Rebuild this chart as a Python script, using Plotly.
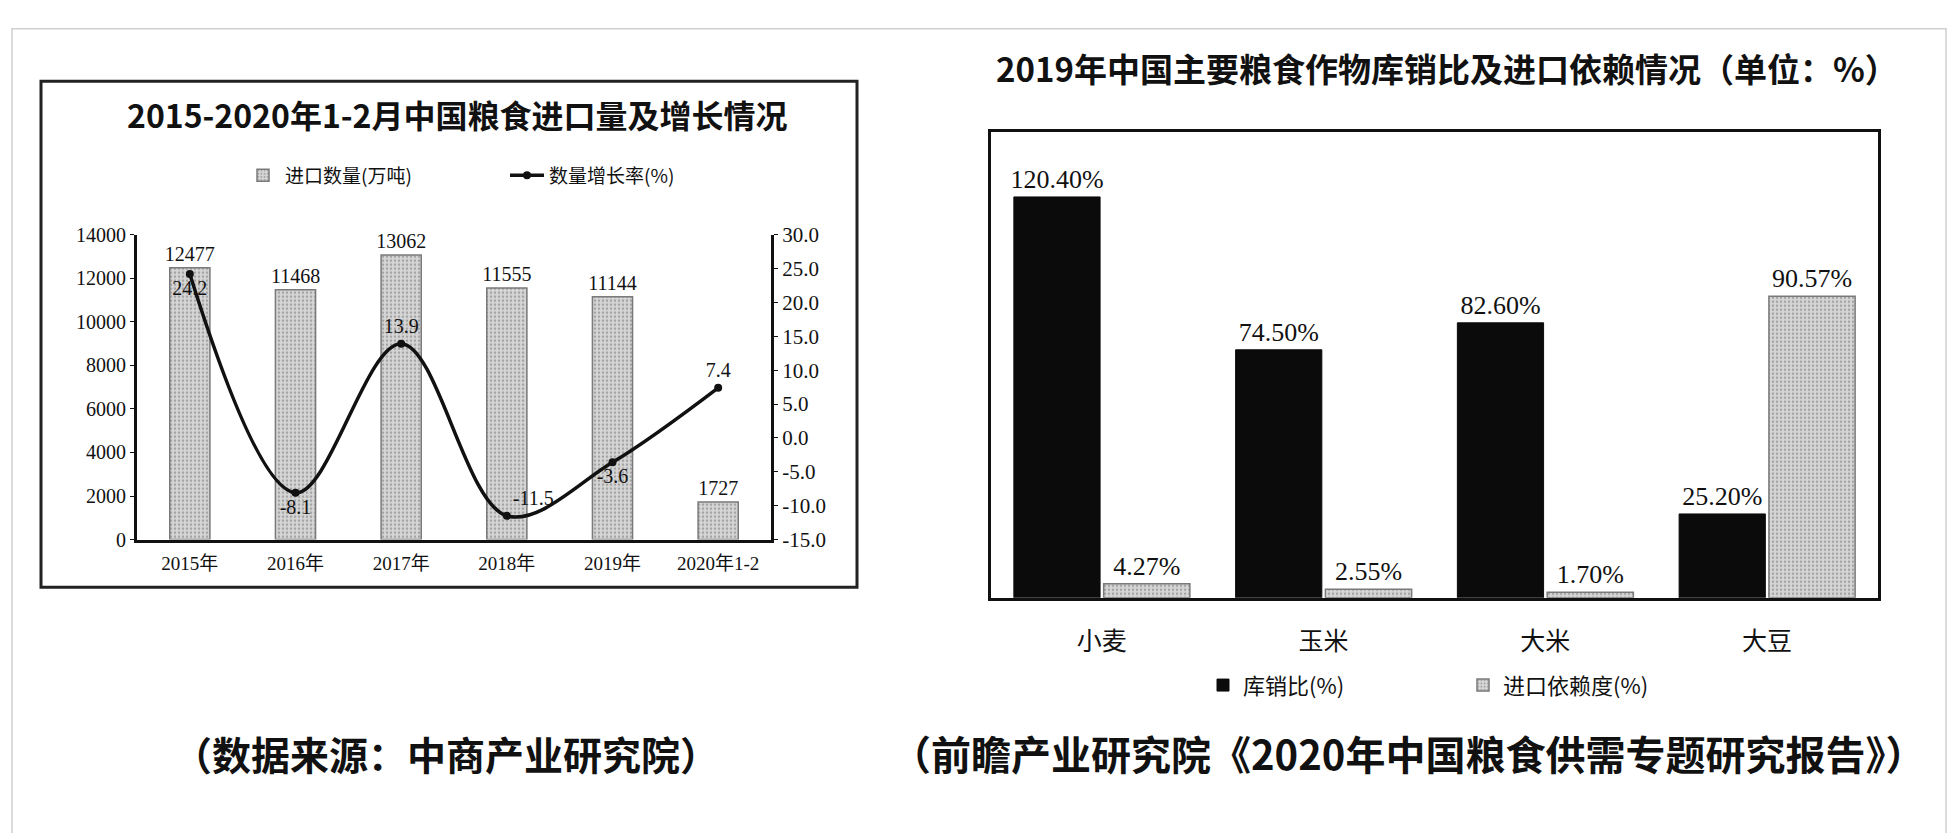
import plotly.graph_objects as go

W, H = 1959, 833
OFF = 8  # default body margin of the html page


def px(x):
    return (x - OFF) / W


def py(y):
    return 1 - (y - OFF) / H


# ---------------- data ----------------
years = ["2015年", "2016年", "2017年", "2018年", "2019年", "2020年1-2"]
import_volume = [12477, 11468, 13062, 11555, 11144, 1727]
growth_rate = [24.2, -8.1, 13.9, -11.5, -3.6, 7.4]
growth_label_pos = ["bottom center", "bottom center", "top center",
                    "top right", "bottom center", "top center"]

left_ticks = [0, 2000, 4000, 6000, 8000, 10000, 12000, 14000]
right_ticks = [-15, -10, -5, 0, 5, 10, 15, 20, 25, 30]

crops = ["小麦", "玉米", "大米", "大豆"]
stock_to_use = [120.40, 74.50, 82.60, 25.20]
import_dependence = [4.27, 2.55, 1.70, 90.57]

SERIF = "Liberation Serif, Noto Sans CJK SC"
CJK = "Noto Sans CJK SC, Liberation Serif"

dot_pattern = dict(shape=".", fgcolor="#6f6f6f", bgcolor="#d6d6d6",
                   size=4, solidity=0.3)

fig = go.Figure()

# ---------------- left chart ----------------
fig.add_trace(go.Bar(
    x=years, y=import_volume, name="进口数量(万吨)",
    xaxis="x", yaxis="y", width=0.38,
    marker=dict(color="#cfcfcf",
                line=dict(color="#7a7a7a", width=1.5),
                pattern=dot_pattern),
    text=[str(v) for v in import_volume], textposition="outside",
    constraintext="none",
    textfont=dict(family=SERIF, size=20, color="#111"),
    cliponaxis=False, legend="legend",
))

fig.add_trace(go.Scatter(
    x=years, y=growth_rate, name="数量增长率(%)",
    xaxis="x", yaxis="y2", mode="lines+markers+text",
    line=dict(color="#111", width=3.5, shape="spline", smoothing=1.0),
    marker=dict(color="#111", size=8),
    text=[f"{v:.1f}" for v in growth_rate], textposition=growth_label_pos,
    textfont=dict(family=SERIF, size=20, color="#111"),
    cliponaxis=False, legend="legend",
))

# ---------------- right chart ----------------
fig.add_trace(go.Bar(
    x=crops, y=stock_to_use, name="库销比(%)",
    xaxis="x3", yaxis="y3",
    marker=dict(color="#0b0b0b", line=dict(color="#0b0b0b", width=1)),
    texttemplate="%{y:.2f}%", textposition="outside", constraintext="none",
    textfont=dict(family=SERIF, size=26, color="#111"),
    cliponaxis=False, legend="legend2",
))
fig.add_trace(go.Bar(
    x=crops, y=import_dependence, name="进口依赖度(%)",
    xaxis="x3", yaxis="y3",
    marker=dict(color="#d0d0d0",
                line=dict(color="#7a7a7a", width=1.5),
                pattern=dot_pattern),
    texttemplate="%{y:.2f}%", textposition="outside", constraintext="none",
    textfont=dict(family=SERIF, size=26, color="#111"),
    cliponaxis=False, legend="legend2",
))

fig.update_layout(
    width=W, height=H,
    margin=dict(l=0, r=0, t=0, b=0),
    paper_bgcolor="white", plot_bgcolor="white",
    barmode="group", bargap=0.19, bargroupgap=0.04,
    font=dict(family=SERIF, color="#111"),
    xaxis=dict(domain=[px(137), px(771)], anchor="y",
               showline=True, linecolor="#111", linewidth=3,
               ticks="", showgrid=False, zeroline=False,
               tickfont=dict(family=SERIF, size=19, color="#111"),
               ticklabelstandoff=5),
    yaxis=dict(domain=[py(543), py(229)], anchor="x", range=[0, 14000],
               tickvals=left_ticks, ticktext=[str(v) for v in left_ticks],
               showline=True, linecolor="#111", linewidth=3,
               ticks="outside", ticklen=4, tickcolor="#111",
               showgrid=False, zeroline=False,
               tickfont=dict(family=SERIF, size=20, color="#111")),
    yaxis2=dict(overlaying="y", anchor="x", side="right", range=[-15, 30],
                tickvals=right_ticks, ticktext=[f"{v:.1f}" for v in right_ticks],
                showline=True, linecolor="#111", linewidth=3,
                ticks="outside", ticklen=4, tickcolor="#111",
                showgrid=False, zeroline=False,
                tickfont=dict(family=SERIF, size=21, color="#111")),
    xaxis3=dict(domain=[px(991), px(1878)], anchor="y3",
                showline=True, mirror=True, linecolor="#111", linewidth=3,
                ticks="", showgrid=False, zeroline=False,
                tickfont=dict(family=CJK, size=25, color="#111"),
                ticklabelstandoff=19),
    yaxis3=dict(domain=[py(603), py(123)], anchor="x3", range=[0, 140],
                showline=True, mirror=True, linecolor="#111", linewidth=3,
                showticklabels=False, ticks="", showgrid=False, zeroline=False),
    legend=dict(orientation="h", x=px(505), y=py(168), xanchor="center",
                yanchor="middle", font=dict(family=CJK, size=19, color="#111"),
                bgcolor="rgba(0,0,0,0)", itemwidth=34, entrywidth=215,
                traceorder="normal"),
    legend2=dict(orientation="h", x=px(1463), y=py(693), xanchor="center",
                 yanchor="middle", font=dict(family=CJK, size=22, color="#111"),
                 bgcolor="rgba(0,0,0,0)", itemwidth=30, entrywidth=215,
                 traceorder="normal"),
    showlegend=True,
)

annotations = [
    dict(text="2015-2020年1-2月中国粮食进口量及增长情况", x=px(457), y=py(105),
         font=dict(family=CJK, size=32, color="#111", weight=700)),
    dict(text="2019年中国主要粮食作物库销比及进口依赖情况（单位：%）", x=px(1447), y=py(57),
         font=dict(family=CJK, size=33, color="#111", weight=700)),
    dict(text="（数据来源：中商产业研究院）", x=px(446), y=py(763),
         font=dict(family=CJK, size=39, color="#111", weight=700)),
    dict(text="（前瞻产业研究院《2020年中国粮食供需专题研究报告》）", x=px(1408), y=py(763),
         font=dict(family=CJK, size=40, color="#111", weight=700)),
]
for a in annotations:
    a.update(xref="paper", yref="paper", showarrow=False,
             xanchor="center", yanchor="middle")
fig.update_layout(annotations=annotations)

fig.update_layout(shapes=[
    # outer light frame
    dict(type="rect", xref="paper", yref="paper",
         x0=px(12), x1=px(1946), y0=-0.05, y1=py(17),
         line=dict(color="#cfcfcf", width=1.5), layer="below"),
    # left chart frame
    dict(type="rect", xref="paper", yref="paper",
         x0=px(41), x1=px(857), y0=py(592), y1=py(71),
         line=dict(color="#222", width=3), layer="below"),
])

fig.write_html("out.html")
